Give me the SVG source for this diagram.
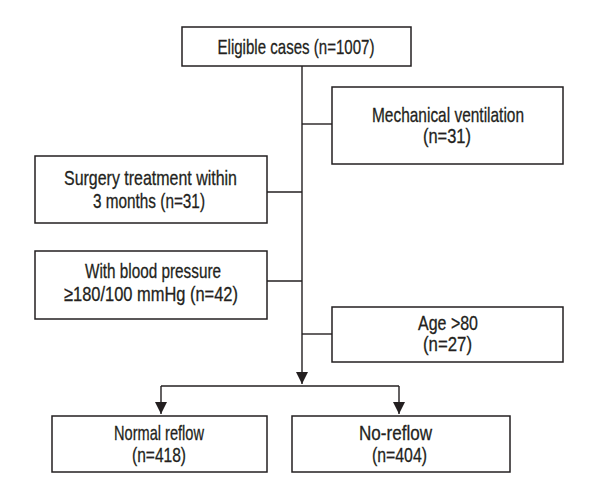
<svg xmlns="http://www.w3.org/2000/svg" width="600" height="500" viewBox="0 0 600 500">
<style>
.box{fill:#fff;stroke:#231f20;stroke-width:1.5}
.ln{fill:none;stroke:#231f20;stroke-width:1.4}
text{font-family:"Liberation Sans",Arial,sans-serif;font-size:21px;fill:#231f20;stroke:#231f20;stroke-width:0.3;text-anchor:middle}
</style>
<defs>
<marker id="arr" markerUnits="userSpaceOnUse" markerWidth="13" markerHeight="12" refX="12" refY="6" orient="auto">
<path d="M0,0 L12,6 L0,12 z" fill="#231f20"/>
</marker>
</defs>
<rect width="600" height="500" fill="#fff"/>
<g id="connectors">
<path class="ln" d="M302 66 V384" marker-end="url(#arr)"/>
<path class="ln" d="M302 124 H332"/>
<path class="ln" d="M267 192 H302"/>
<path class="ln" d="M267 281 H302"/>
<path class="ln" d="M302 334 H332"/>
<path class="ln" d="M161 386 H399"/>
<path class="ln" d="M161 386 V414" marker-end="url(#arr)"/>
<path class="ln" d="M399 386 V414" marker-end="url(#arr)"/>
</g>
<g id="eligible">
<rect class="box" x="182" y="27" width="229" height="39"/>
<text x="296" y="54" textLength="157" lengthAdjust="spacingAndGlyphs">Eligible cases (n=1007)</text>
</g>
<g id="mechanical">
<rect class="box" x="332" y="87" width="231" height="77"/>
<text x="448" y="122" textLength="152" lengthAdjust="spacingAndGlyphs">Mechanical ventilation</text>
<text x="447" y="143" textLength="48" lengthAdjust="spacingAndGlyphs">(n=31)</text>
</g>
<g id="surgery">
<rect class="box" x="35" y="156" width="232" height="67"/>
<text x="150.5" y="185" textLength="173" lengthAdjust="spacingAndGlyphs">Surgery treatment within</text>
<text x="149" y="208" textLength="112" lengthAdjust="spacingAndGlyphs">3 months (n=31)</text>
</g>
<g id="bloodpressure">
<rect class="box" x="35" y="251" width="232" height="68"/>
<text x="153" y="278" textLength="136" lengthAdjust="spacingAndGlyphs">With blood pressure</text>
<text x="151" y="301" textLength="174" lengthAdjust="spacingAndGlyphs">≥180/100 mmHg (n=42)</text>
</g>
<g id="age">
<rect class="box" x="332" y="307" width="231" height="55"/>
<text x="448" y="330" textLength="60" lengthAdjust="spacingAndGlyphs">Age &gt;80</text>
<text x="447.5" y="351" textLength="49" lengthAdjust="spacingAndGlyphs">(n=27)</text>
</g>
<g id="normal">
<rect class="box" x="52" y="416" width="215" height="56"/>
<text x="159" y="440" textLength="90" lengthAdjust="spacingAndGlyphs">Normal reflow</text>
<text x="159" y="462" textLength="54" lengthAdjust="spacingAndGlyphs">(n=418)</text>
</g>
<g id="noreflow">
<rect class="box" x="292" y="416" width="218" height="56"/>
<text x="395.5" y="440" textLength="73" lengthAdjust="spacingAndGlyphs">No-reflow</text>
<text x="399.5" y="462" textLength="55" lengthAdjust="spacingAndGlyphs">(n=404)</text>
</g>
</svg>
